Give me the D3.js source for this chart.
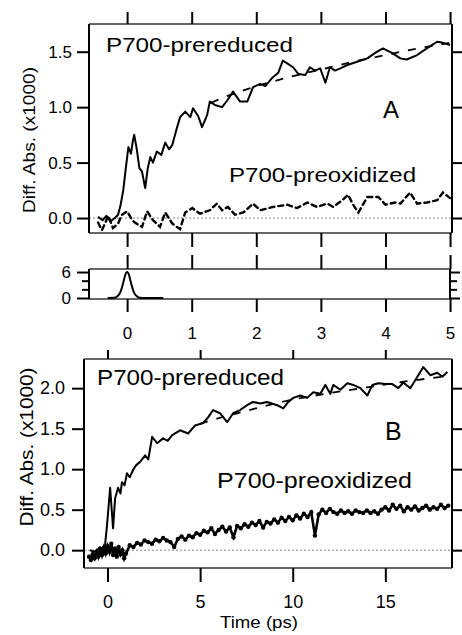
<!DOCTYPE html>
<html><head><meta charset="utf-8">
<script src="https://cdn.jsdelivr.net/npm/d3@7"></script>
<style>body{margin:0;background:#fff} text{font-family:"Liberation Sans",Arial,sans-serif;fill:#000}</style>
</head><body><svg id="c" width="462" height="635"></svg>
<script>
// ---------- DATA ----------
// Panel A (time in ps, Diff. Abs. x1000)
const preReducedA = [[-0.45,0.01],[-0.38,-0.02],[-0.32,0.02],[-0.26,-0.03],[-0.19,0.0],[-0.14,0.03],[-0.10,0.12],[-0.06,0.25],[-0.02,0.45],[0.02,0.64],[0.06,0.58],[0.09,0.70],[0.11,0.75],[0.15,0.62],[0.19,0.45],[0.23,0.42],[0.28,0.27],[0.32,0.45],[0.36,0.55],[0.40,0.50],[0.46,0.60],[0.53,0.57],[0.59,0.68],[0.65,0.62],[0.70,0.66],[0.76,0.79],[0.82,0.91],[0.90,0.96],[0.98,0.91],[1.02,0.99],[1.10,0.92],[1.16,0.82],[1.24,0.93],[1.28,1.05],[1.36,1.02],[1.47,1.00],[1.55,1.06],[1.64,1.14],[1.75,1.05],[1.86,1.05],[1.95,1.18],[2.06,1.21],[2.14,1.19],[2.24,1.26],[2.34,1.31],[2.41,1.42],[2.49,1.39],[2.57,1.36],[2.65,1.30],[2.76,1.29],[2.83,1.36],[2.91,1.33],[2.99,1.35],[3.07,1.22],[3.14,1.36],[3.22,1.33],[3.30,1.35],[3.41,1.38],[3.56,1.41],[3.72,1.44],[3.84,1.49],[3.96,1.53],[4.10,1.49],[4.23,1.44],[4.33,1.43],[4.49,1.47],[4.64,1.53],[4.80,1.59],[4.89,1.58],[5.00,1.56]];
const fitA = [[1.3,1.04],[1.5,1.09],[2.0,1.19],[2.5,1.27],[3.0,1.34],[3.5,1.41],[4.0,1.47],[4.5,1.53],[5.0,1.58]];
const preOxidizedA = [[-0.45,-0.04],[-0.39,-0.11],[-0.29,0.02],[-0.22,-0.09],[-0.14,-0.05],[-0.08,0.03],[0.0,0.06],[0.08,-0.02],[0.12,-0.04],[0.17,-0.06],[0.23,-0.08],[0.31,0.06],[0.40,-0.02],[0.46,-0.05],[0.51,-0.08],[0.59,0.05],[0.70,-0.05],[0.77,-0.08],[0.82,-0.10],[0.90,0.05],[1.01,0.09],[1.10,0.05],[1.13,0.04],[1.28,0.07],[1.39,0.13],[1.47,0.07],[1.56,0.10],[1.67,0.03],[1.80,0.05],[1.95,0.13],[2.06,0.07],[2.26,0.10],[2.48,0.12],[2.63,0.09],[2.79,0.14],[2.94,0.10],[3.10,0.13],[3.19,0.10],[3.33,0.16],[3.42,0.21],[3.50,0.12],[3.58,0.05],[3.72,0.19],[3.89,0.19],[4.00,0.12],[4.15,0.14],[4.23,0.13],[4.38,0.23],[4.49,0.13],[4.64,0.14],[4.80,0.16],[4.89,0.23],[5.00,0.18]];
// Instrument response (small panel)
const pulse = [[-0.30,0],[-0.2,0.05],[-0.15,0.4],[-0.1,1.5],[-0.06,3.5],[-0.03,5.3],[0,6],[0.03,5.3],[0.06,3.5],[0.1,1.5],[0.15,0.4],[0.2,0.05],[0.3,0],[0.56,0]];
// Panel B
const preReducedB = [[-0.95,0.0],[-0.68,-0.02],[-0.41,0.03],[-0.24,0.0],[-0.14,0.05],[-0.03,0.30],[0.14,0.77],[0.30,0.27],[0.41,0.64],[0.57,0.77],[0.70,0.70],[0.78,0.84],[0.92,0.80],[1.05,0.95],[1.20,0.90],[1.38,0.99],[1.55,1.05],[1.76,1.09],[2.03,1.17],[2.20,1.12],[2.41,1.40],[2.68,1.32],[3.0,1.38],[3.25,1.35],[3.49,1.42],[3.92,1.48],[4.35,1.44],[4.73,1.54],[5.16,1.57],[5.43,1.64],[5.70,1.73],[6.08,1.69],[6.46,1.58],[6.78,1.69],[7.16,1.73],[7.54,1.79],[7.86,1.83],[8.24,1.81],[8.62,1.83],[9.16,1.79],[9.49,1.75],[9.76,1.83],[10.03,1.88],[10.41,1.91],[10.78,1.88],[11.11,1.95],[11.49,1.93],[11.76,2.04],[12.03,1.93],[12.19,2.04],[12.57,1.98],[12.95,2.06],[13.27,2.04],[13.65,2.00],[14.03,1.91],[14.30,2.04],[14.62,2.06],[15.0,2.05],[15.38,2.05],[15.70,2.00],[15.97,2.07],[16.35,2.00],[16.73,2.14],[17.05,2.26],[17.43,2.16],[17.81,2.19],[18.08,2.14],[18.35,2.20]];
const fitB = [[5,1.56],[6,1.63],[7,1.69],[8,1.75],[9,1.81],[10,1.86],[12,1.94],[14,2.01],[16,2.08],[18,2.14],[18.4,2.16]];
const preOxidizedB = [[-1.0,-0.08],[-0.9,-0.12],[-0.8,-0.05],[-0.7,-0.10],[-0.6,-0.02],[-0.5,-0.08],[-0.4,0.02],[-0.3,-0.06],[-0.2,0.03],[-0.1,-0.04],[0.0,0.05],[0.1,-0.02],[0.2,0.08],[0.3,-0.06],[0.4,0.02],[0.5,-0.08],[0.6,0.04],[0.7,-0.05],[0.8,0.0],[0.9,-0.10],[1.0,-0.04],[1.2,0.06],[1.4,0.04],[1.6,0.09],[1.8,0.07],[2.0,0.12],[2.2,0.10],[2.4,0.08],[2.6,0.13],[2.8,0.11],[3.0,0.15],[3.2,0.12],[3.4,0.10],[3.6,0.04],[3.8,0.14],[4.0,0.17],[4.2,0.13],[4.4,0.18],[4.6,0.16],[4.8,0.21],[5.0,0.19],[5.2,0.24],[5.4,0.22],[5.6,0.27],[5.8,0.20],[6.0,0.25],[6.2,0.29],[6.4,0.23],[6.6,0.28],[6.8,0.16],[7.0,0.30],[7.2,0.27],[7.4,0.32],[7.6,0.29],[7.8,0.34],[8.0,0.31],[8.2,0.36],[8.4,0.28],[8.6,0.35],[8.8,0.33],[9.0,0.38],[9.2,0.34],[9.4,0.40],[9.6,0.36],[9.8,0.41],[10.0,0.37],[10.2,0.43],[10.4,0.39],[10.6,0.45],[10.8,0.41],[11.0,0.47],[11.2,0.18],[11.4,0.44],[11.6,0.50],[11.8,0.46],[12.0,0.51],[12.2,0.47],[12.4,0.45],[12.6,0.49],[12.8,0.46],[13.0,0.48],[13.2,0.45],[13.4,0.49],[13.6,0.47],[13.8,0.46],[14.0,0.49],[14.2,0.46],[14.4,0.48],[14.6,0.45],[14.8,0.50],[15.0,0.53],[15.2,0.49],[15.4,0.56],[15.6,0.51],[15.8,0.55],[16.0,0.48],[16.2,0.53],[16.4,0.50],[16.6,0.54],[16.8,0.49],[17.0,0.52],[17.2,0.55],[17.4,0.50],[17.6,0.53],[17.8,0.51],[18.0,0.56],[18.2,0.52],[18.4,0.55]];
// Ticks
const ticksXA = [0,1,2,3,4,5];
const ticksYA = [0,0.5,1.0,1.5];
const ticksYS = [0,6];
const minorYS = [2,4];
const ticksXB = [0,5,10,15];
const ticksYB = [0,0.5,1.0,1.5,2.0];

// ---------- DRAW ----------
const svg = d3.select("#c");
const xA = d3.scaleLinear().domain([-0.59,5.03]).range([89,452]);
const yA = d3.scaleLinear().domain([-0.135,1.75]).range([233,24]);
const yS = d3.scaleLinear().domain([-0.23,6.7]).range([299,269]);
const xB = d3.scaleLinear().domain([-1.27,18.6]).range([84,452]);
const yB = d3.scaleLinear().domain([-0.22,2.36]).range([568,359]);

function axis(gen, tx, ty, fs){
  const g = svg.append("g").attr("transform",`translate(${tx},${ty})`).call(gen);
  g.select(".domain").remove();
  g.selectAll(".tick line").attr("stroke","#000").attr("stroke-width",2);
  g.selectAll("text").attr("font-size",fs||17).attr("font-family","Liberation Sans, Arial, sans-serif").attr("fill","#000");
  return g;
}
function frame(x0,x1,y0,y1){
  svg.append("line").attr("x1",x0).attr("x2",x1).attr("y1",y0).attr("y2",y0).attr("stroke","#333").attr("stroke-width",1.4);
  svg.append("line").attr("x1",x0).attr("x2",x1).attr("y1",y1).attr("y2",y1).attr("stroke","#333").attr("stroke-width",1.4);
  svg.append("line").attr("x1",x0).attr("x2",x0).attr("y1",y0).attr("y2",y1).attr("stroke","#000").attr("stroke-width",2);
  svg.append("line").attr("x1",x1).attr("x2",x1).attr("y1",y0).attr("y2",y1).attr("stroke","#000").attr("stroke-width",2);
}
function zero(x0,x1,y){
  svg.append("line").attr("x1",x0).attr("x2",x1).attr("y1",y).attr("y2",y).attr("stroke","#888").attr("stroke-width",1).attr("stroke-dasharray","2,2");
}

// Panel A
zero(89,462,yA(0));
frame(89,452,24,233);
axis(d3.axisTop(xA).tickValues(ticksXA).tickSize(12).tickFormat(""),0,24);
axis(d3.axisBottom(xA).tickValues(ticksXA).tickSize(14).tickFormat(""),0,233);
axis(d3.axisLeft(yA).tickValues(ticksYA).tickSize(12).tickPadding(5).tickFormat(d3.format(".1f")),89,0,17);
axis(d3.axisRight(yA).tickValues(ticksYA).tickSize(10).tickFormat(""),452,0);

const lA = d3.line().x(d=>xA(d[0])).y(d=>yA(d[1]));
svg.append("path").attr("d",lA(fitA)).attr("fill","none").attr("stroke","#000").attr("stroke-width",1.8).attr("stroke-dasharray","8,9");
svg.append("path").attr("d",lA(preReducedA)).attr("fill","none").attr("stroke","#000").attr("stroke-width",2).attr("stroke-linejoin","round");
svg.append("path").attr("d",lA(preOxidizedA)).attr("fill","none").attr("stroke","#000").attr("stroke-width",2.4).attr("stroke-dasharray","5,4").attr("stroke-linecap","round");

svg.append("text").attr("x",106).attr("y",52).attr("font-size",21).attr("textLength",187).attr("lengthAdjust","spacingAndGlyphs").text("P700-prereduced");
svg.append("text").attr("x",383).attr("y",118).attr("font-size",24).text("A");
svg.append("text").attr("x",229).attr("y",182).attr("font-size",21).attr("textLength",187).attr("lengthAdjust","spacingAndGlyphs").text("P700-preoxidized");
svg.append("text").attr("transform","translate(35,140) rotate(-90)").attr("text-anchor","middle").attr("font-size",17).attr("textLength",146).attr("lengthAdjust","spacingAndGlyphs").text("Diff. Abs. (x1000)");

// Small panel (pulse)
frame(89,450,269,299);
axis(d3.axisTop(xA).tickValues(ticksXA).tickSize(14).tickFormat(""),0,269);
axis(d3.axisBottom(xA).tickValues(ticksXA).tickSize(13).tickPadding(15).tickFormat(d3.format("d")),0,299,17);
axis(d3.axisLeft(yS).tickValues(ticksYS).tickSize(12).tickPadding(6).tickFormat(d3.format("d")),89,0,17);
axis(d3.axisLeft(yS).tickValues(minorYS).tickSize(7).tickFormat(""),89,0);
axis(d3.axisRight(yS).tickValues(ticksYS).tickSize(10).tickFormat(""),450,0);
axis(d3.axisRight(yS).tickValues(minorYS).tickSize(7).tickFormat(""),450,0);
const lS = d3.line().x(d=>xA(d[0])).y(d=>yS(d[1])).curve(d3.curveMonotoneX);
svg.append("path").attr("d",lS(pulse)).attr("fill","none").attr("stroke","#000").attr("stroke-width",2);

// Panel B
zero(84,462,yB(0));
frame(84,452,359,568);
axis(d3.axisTop(xB).tickValues(ticksXB).tickSize(9).tickFormat(""),0,359);
axis(d3.axisBottom(xB).tickValues(ticksXB).tickSize(14).tickPadding(13).tickFormat(d3.format("d")),0,568,18);
axis(d3.axisLeft(yB).tickValues(ticksYB).tickSize(12).tickPadding(7).tickFormat(d3.format(".1f")),84,0,18);
axis(d3.axisRight(yB).tickValues(ticksYB).tickSize(10).tickFormat(""),452,0);

const lB = d3.line().x(d=>xB(d[0])).y(d=>yB(d[1]));
svg.append("path").attr("d",lB(fitB)).attr("fill","none").attr("stroke","#000").attr("stroke-width",1.8).attr("stroke-dasharray","8,9");
svg.append("path").attr("d",lB(preReducedB)).attr("fill","none").attr("stroke","#000").attr("stroke-width",2).attr("stroke-linejoin","round");
svg.append("path").attr("d",lB(preOxidizedB)).attr("fill","none").attr("stroke","#000").attr("stroke-width",2.6);
svg.append("g").selectAll("circle").data(preOxidizedB).join("circle")
  .attr("cx",d=>xB(d[0])).attr("cy",d=>yB(d[1])).attr("r",2.2).attr("fill","#000");

svg.append("text").attr("x",97).attr("y",385).attr("font-size",22).attr("textLength",187).attr("lengthAdjust","spacingAndGlyphs").text("P700-prereduced");
svg.append("text").attr("x",385).attr("y",440).attr("font-size",25).text("B");
svg.append("text").attr("x",217).attr("y",488).attr("font-size",22).attr("textLength",195).attr("lengthAdjust","spacingAndGlyphs").text("P700-preoxidized");
svg.append("text").attr("transform","translate(33,447) rotate(-90)").attr("text-anchor","middle").attr("font-size",18).attr("textLength",159).attr("lengthAdjust","spacingAndGlyphs").text("Diff. Abs. (x1000)");
svg.append("text").attr("x",259).attr("y",628).attr("text-anchor","middle").attr("font-size",16).attr("textLength",78).attr("lengthAdjust","spacingAndGlyphs").text("Time (ps)");
</script></body></html>
